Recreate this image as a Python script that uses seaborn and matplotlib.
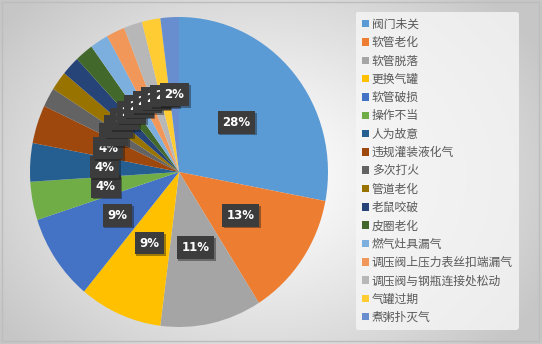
import numpy as np
import matplotlib
matplotlib.use("Agg")
import matplotlib.pyplot as plt
import matplotlib.patheffects as pe
from matplotlib.patches import Rectangle
import seaborn as sns

categories = ["阀门未关", "软管老化", "软管脱落", "更换气罐", "软管破损", "操作不当", "人为故意",
              "违规灌装液化气", "多次打火", "管道老化", "老鼠咬破", "皮圈老化", "燃气灶具漏气",
              "调压阀上压力表丝扣端漏气", "调压阀与钢瓶连接处松动", "气罐过期", "煮粥扑灭气"]
values = [28, 13, 11, 9, 9, 4, 4, 4, 2, 2, 2, 2, 2, 2, 2, 2, 2]
colors = ["#5B9BD5", "#ED7D31", "#A5A5A5", "#FFC000", "#4472C4", "#70AD47", "#255E91",
          "#9E480E", "#636363", "#997300", "#264478", "#43682B", "#7CAFDD", "#F1975A",
          "#B7B7B7", "#FFCD33", "#698ED0"]

sns.set_theme(style="white")
plt.rcParams["font.family"] = ["Noto Sans CJK SC", "DejaVu Sans"]

W, H = 542, 344
fig = plt.figure(figsize=(W / 100, H / 100), dpi=100)

# background radial gradient
bg = fig.add_axes([0, 0, 1, 1], zorder=-10)
yy, xx = np.mgrid[0:H, 0:W]
cx, cy = 260, 175
d = np.sqrt(((xx - cx) / 320.0) ** 2 + ((yy - cy) / 250.0) ** 2)
g = np.clip(1.0 - 0.22 * d ** 1.2, 0.78, 1.0)
bg.imshow(np.dstack([g, g, g]), aspect="auto", extent=[0, W, H, 0])
bg.add_patch(Rectangle((2, 2), W - 5, H - 5, fill=False, edgecolor="#bdbdbd", lw=1))
bg.set_xlim(0, W)
bg.set_ylim(H, 0)
bg.axis("off")

# pie axes (slightly elliptical like the reference)
pcx, pcy, rx, ry = 179, 172, 149, 155
ax = fig.add_axes([(pcx - rx) / W, (H - pcy - ry) / H, 2 * rx / W, 2 * ry / H])
palette = sns.color_palette(colors)
wedges, texts, autotexts = ax.pie(values, colors=palette, startangle=90, counterclock=False,
                                  autopct="%.0f%%", pctdistance=0.5,
                                  wedgeprops=dict(linewidth=0),
                                  textprops=dict(color="white", fontsize=8.5, fontweight="bold",
                                                 family=["DejaVu Sans"]))
ax.set_aspect("auto")
ax.set_xlim(-1, 1)
ax.set_ylim(-1, 1)
for t in autotexts:
    t.set_bbox(dict(boxstyle="square,pad=0.4", facecolor="#3c3c3c", edgecolor="none"))
    t.get_bbox_patch().set_path_effects([pe.SimplePatchShadow(offset=(1.2, -1.2), alpha=0.4),
                                         pe.Normal()])

# legend
leg = fig.legend(wedges, categories, loc="upper left",
                 bbox_to_anchor=(356 / W, 1 - 12 / H),
                 frameon=True, fontsize=8.5, handlelength=0.6, handleheight=0.6,
                 handletextpad=0.25, labelspacing=0.45, borderpad=0.5,
                 borderaxespad=0)
leg.get_frame().set_facecolor("#f6f6f6")
leg.get_frame().set_edgecolor("none")
leg.get_frame().set_alpha(0.8)
for t in leg.get_texts():
    t.set_color("#595959")

fig.savefig("out.png", dpi=100)
